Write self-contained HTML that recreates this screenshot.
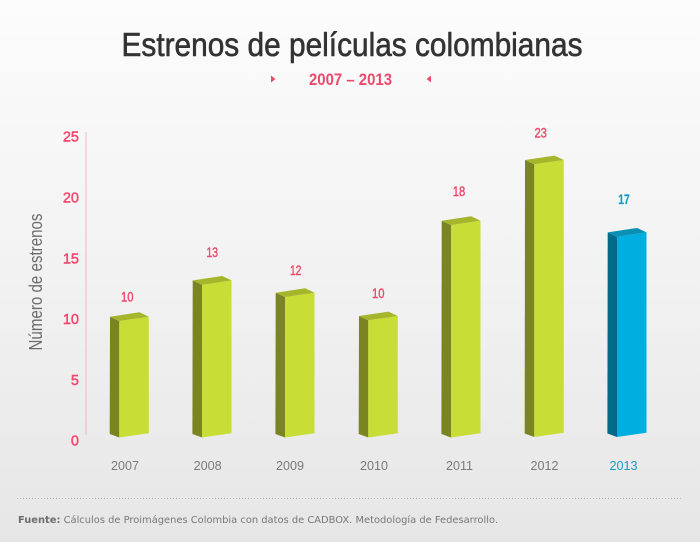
<!DOCTYPE html>
<html><head><meta charset="utf-8"><style>
html,body{margin:0;padding:0;}
body{width:700px;height:542px;overflow:hidden;}
</style></head><body>
<svg width="700" height="542" viewBox="0 0 700 542" xmlns="http://www.w3.org/2000/svg">
<defs>
<linearGradient id="bg" x1="0" y1="0" x2="0" y2="1">
<stop offset="0" stop-color="#fcfcfc"/>
<stop offset="0.5" stop-color="#f2f2f2"/>
<stop offset="1" stop-color="#e6e6e6"/>
</linearGradient>
</defs>
<rect x="0" y="0" width="700" height="542" fill="url(#bg)"/>

<text x="352" y="56" font-family="Liberation Sans, sans-serif" font-size="33" fill="#333" stroke="#333" stroke-width="0.6" text-anchor="middle" textLength="461" lengthAdjust="spacingAndGlyphs">Estrenos de películas colombianas</text>
<text x="350.5" y="85" font-family="Liberation Sans, sans-serif" font-size="16.5" font-weight="bold" fill="#ec4a6c" text-anchor="middle" textLength="83" lengthAdjust="spacingAndGlyphs">2007 – 2013</text>
<polygon points="271,75.5 275.5,79 271,82.5" fill="#ec4a6c"/>
<polygon points="431,75.5 426.5,79 431,82.5" fill="#ec4a6c"/>

<!-- y axis -->
<line x1="86" y1="132" x2="86" y2="435" stroke="#f2b8c4" stroke-width="1"/>
<g font-family="Liberation Sans, sans-serif" font-size="14.5" fill="#ef476c" stroke="#ef476c" stroke-width="0.45" text-anchor="end">
<text x="79" y="141.7">25</text>
<text x="79" y="202.5">20</text>
<text x="79" y="263.3">15</text>
<text x="79" y="324">10</text>
<text x="79" y="385">5</text>
<text x="79" y="445.6">0</text>
</g>
<text transform="translate(42,282) rotate(-90)" font-family="Liberation Sans, sans-serif" font-size="18" fill="#6b6b6b" text-anchor="middle" textLength="137" lengthAdjust="spacingAndGlyphs">Número de estrenos</text>

<!-- bars -->
<g id="bars">
<polygon points="110,316.7 119.3,321 119.3,437.5 109.7,434" fill="#7a8522"/>
<polygon points="119.3,321 148.8,316.7 148.8,433.3 119.3,437.5" fill="#c8de36"/>
<polygon points="110,316.7 139.5,312.3 148.8,316.7 119.3,321" fill="#a6b62c"/>
<polygon points="192.7,280.4 202,284.7 202,437.5 192.4,434" fill="#7a8522"/>
<polygon points="202,284.7 231.5,280.4 231.5,433.3 202,437.5" fill="#c8de36"/>
<polygon points="192.7,280.4 222.2,276 231.5,280.4 202,284.7" fill="#a6b62c"/>
<polygon points="275.7,292.7 285,297 285,437.5 275.4,434" fill="#7a8522"/>
<polygon points="285,297 314.5,292.7 314.5,433.3 285,437.5" fill="#c8de36"/>
<polygon points="275.7,292.7 305.2,288.3 314.5,292.7 285,297" fill="#a6b62c"/>
<polygon points="359,316 368.3,320.3 368.3,437.5 358.7,434" fill="#7a8522"/>
<polygon points="368.3,320.3 397.8,316 397.8,433.3 368.3,437.5" fill="#c8de36"/>
<polygon points="359,316 388.5,311.6 397.8,316 368.3,320.3" fill="#a6b62c"/>
<polygon points="441.7,220.7 451,225 451,437.5 441.4,434" fill="#7a8522"/>
<polygon points="451,225 480.5,220.7 480.5,433.3 451,437.5" fill="#c8de36"/>
<polygon points="441.7,220.7 471.2,216.3 480.5,220.7 451,225" fill="#a6b62c"/>
<polygon points="525,160 534.3,164.3 534.3,437 524.7,433.5" fill="#7a8522"/>
<polygon points="534.3,164.3 563.8,160 563.8,432.8 534.3,437" fill="#c8de36"/>
<polygon points="525,160 554.5,155.6 563.8,160 534.3,164.3" fill="#a6b62c"/>
<polygon points="607.7,232.4 617,236.7 617,437 607.4,433.5" fill="#006a88"/>
<polygon points="617,236.7 646.5,232.4 646.5,432.8 617,437" fill="#00aee0"/>
<polygon points="607.7,232.4 637.2,228 646.5,232.4 617,236.7" fill="#0a8fb5"/>
</g>

<!-- value labels -->
<g font-family="Liberation Sans, sans-serif" font-size="13.5" fill="#ee4a6c" stroke="#ee4a6c" stroke-width="0.4" text-anchor="middle">
<text x="127.3" y="301.5" textLength="12.5" lengthAdjust="spacingAndGlyphs">10</text>
<text x="212.3" y="257" textLength="11.5" lengthAdjust="spacingAndGlyphs">13</text>
<text x="295.7" y="274.8" textLength="11.5" lengthAdjust="spacingAndGlyphs">12</text>
<text x="378.3" y="297.8" textLength="12.5" lengthAdjust="spacingAndGlyphs">10</text>
<text x="459" y="195.8" textLength="12.5" lengthAdjust="spacingAndGlyphs">18</text>
<text x="540.7" y="137.5" textLength="12.5" lengthAdjust="spacingAndGlyphs">23</text>
<text x="624" y="204" fill="#129ac6" stroke="#129ac6" stroke-width="0.2" font-weight="bold" textLength="11.5" lengthAdjust="spacingAndGlyphs">17</text>
</g>

<!-- x labels -->
<g font-family="Liberation Sans, sans-serif" font-size="13" fill="#7a7a7a" text-anchor="middle">
<text x="125" y="470" textLength="28" lengthAdjust="spacingAndGlyphs">2007</text>
<text x="207.6" y="470" textLength="28" lengthAdjust="spacingAndGlyphs">2008</text>
<text x="290" y="470" textLength="28" lengthAdjust="spacingAndGlyphs">2009</text>
<text x="374" y="470" textLength="28" lengthAdjust="spacingAndGlyphs">2010</text>
<text x="459.5" y="470" textLength="27" lengthAdjust="spacingAndGlyphs">2011</text>
<text x="544.5" y="470" textLength="28" lengthAdjust="spacingAndGlyphs">2012</text>
<text x="623.5" y="470" fill="#1a9bc6" textLength="28" lengthAdjust="spacingAndGlyphs">2013</text>
</g>

<!-- footer -->
<line x1="17" y1="498.5" x2="683" y2="498.5" stroke="#b5b5b5" stroke-width="1" stroke-dasharray="1,2"/>
<text x="18" y="523" font-family="DejaVu Sans, Liberation Sans, sans-serif" font-size="9.5" fill="#777" textLength="480" lengthAdjust="spacingAndGlyphs"><tspan font-weight="bold" fill="#6d6d6d">Fuente:</tspan> Cálculos de Proimágenes Colombia con datos de CADBOX. Metodología de Fedesarrollo.</text>
</svg>
</body></html>
